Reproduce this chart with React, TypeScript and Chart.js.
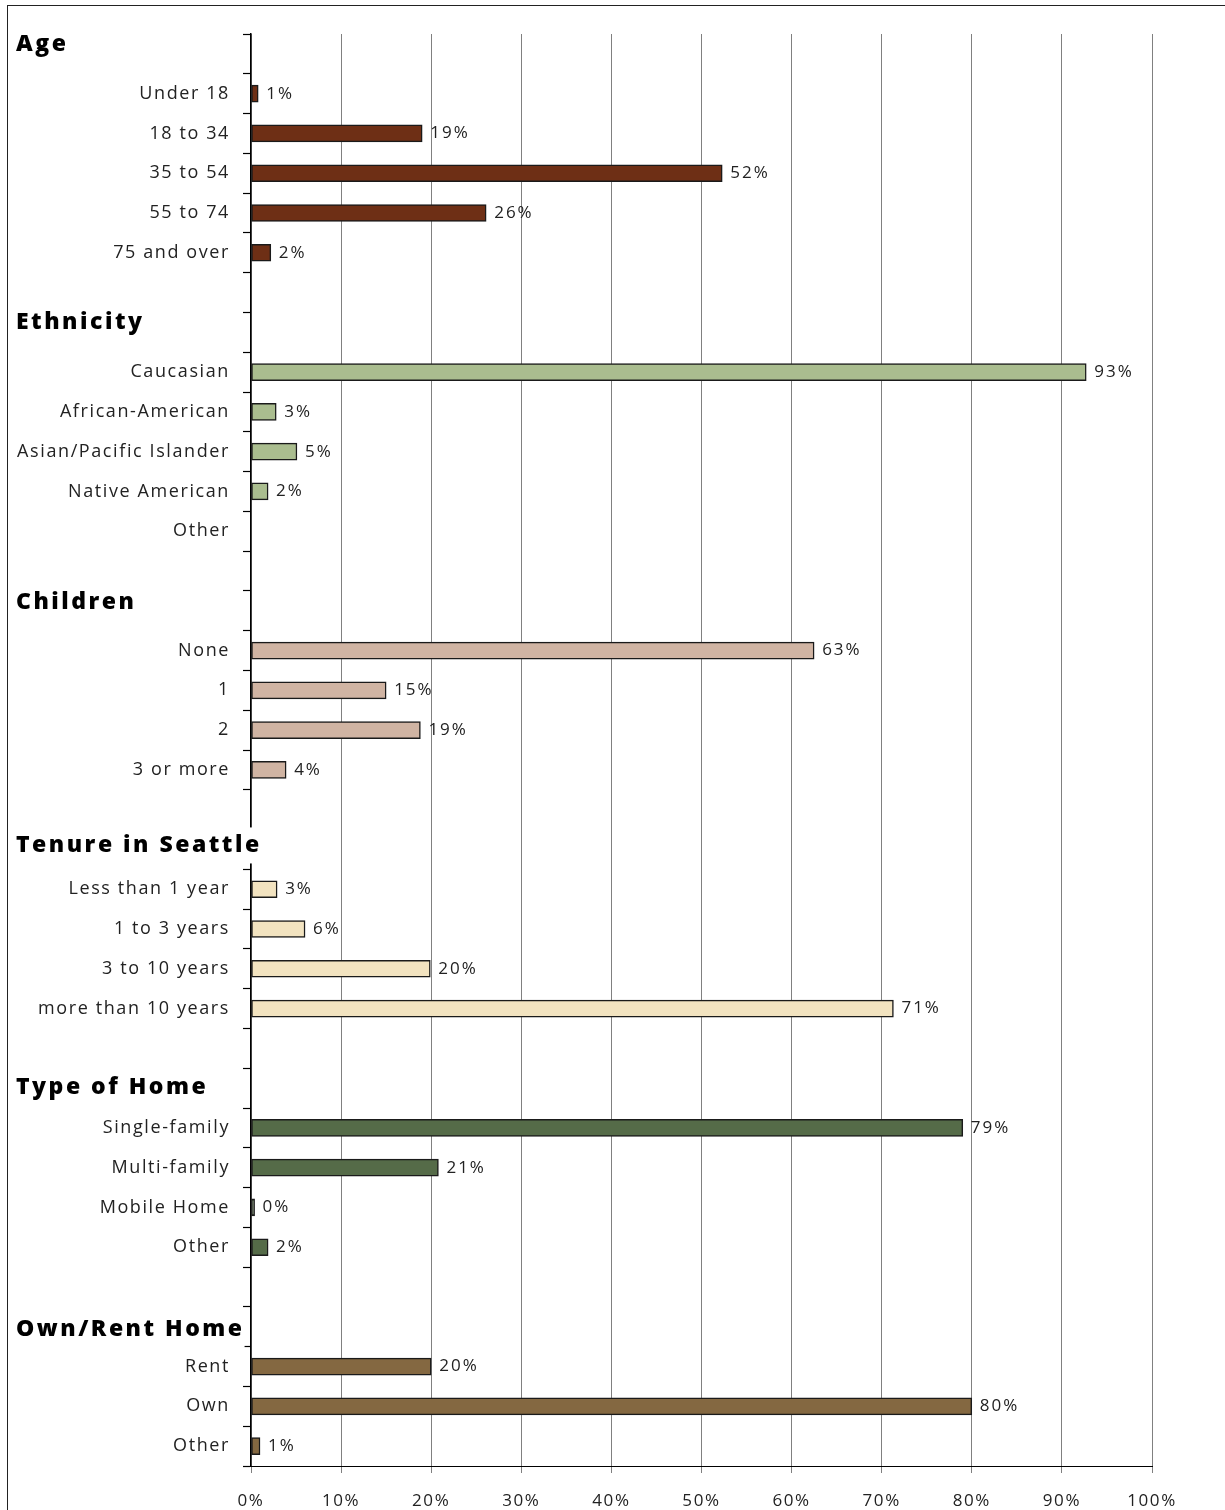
import React, { useEffect, useRef } from "react";
import { Chart, registerables } from "chart.js";

Chart.register(...registerables);

// ---- Data ----
const SECTION_TITLES = ["Age", "Ethnicity", "Children", "Tenure in Seattle", "Type of Home", "Own/Rent Home"];
const AGE_LABELS = ["Under 18", "18 to 34", "35 to 54", "55 to 74", "75 and over"];
const AGE_VALUES = [0.8, 19.0, 52.3, 26.1, 2.2];
const ETHNICITY_LABELS = ["Caucasian", "African-American", "Asian/Pacific Islander", "Native American", "Other"];
const ETHNICITY_VALUES: (number | null)[] = [92.7, 2.8, 5.1, 1.9, null];
const CHILDREN_LABELS = ["None", "1", "2", "3 or more"];
const CHILDREN_VALUES = [62.5, 15.0, 18.8, 3.9];
const TENURE_LABELS = ["Less than 1 year", "1 to 3 years", "3 to 10 years", "more than 10 years"];
const TENURE_VALUES = [2.9, 6.0, 19.9, 71.3];
const HOME_LABELS = ["Single-family", "Multi-family", "Mobile Home", "Other"];
const HOME_VALUES = [79.0, 20.8, 0.4, 1.9];
const OWN_LABELS = ["Rent", "Own", "Other"];
const OWN_VALUES = [20.0, 80.0, 1.0];
const X_TICKS = [0, 10, 20, 30, 40, 50, 60, 70, 80, 90, 100];

// ---- Style ----
const SECTION_COLORS = ["#6E2F15", "#AABD8F", "#D0B4A3", "#F2E3C0", "#556B48", "#846841"];
const HEADER_NUDGE = [-9, -10, -8, -4, -1, 3];
const LABEL_FONT = "'Open Sans', 'DejaVu Sans', sans-serif";
const SPACING = "1.6px";

export default function App() {
  const ref = useRef<HTMLCanvasElement | null>(null);

  useEffect(() => {
    const sections = [
      { labels: AGE_LABELS, values: AGE_VALUES, trailingBlank: true },
      { labels: ETHNICITY_LABELS, values: ETHNICITY_VALUES, trailingBlank: true },
      { labels: CHILDREN_LABELS, values: CHILDREN_VALUES, trailingBlank: true },
      { labels: TENURE_LABELS, values: TENURE_VALUES, trailingBlank: true },
      { labels: HOME_LABELS, values: HOME_VALUES, trailingBlank: true },
      { labels: OWN_LABELS, values: OWN_VALUES, trailingBlank: false },
    ];
    const labels: string[] = [];
    const data: (number | null)[] = [];
    const colors: string[] = [];
    const headerRows: number[] = [];
    sections.forEach((s, si) => {
      headerRows.push(labels.length);
      labels.push("");
      data.push(null);
      colors.push(SECTION_COLORS[si]);
      s.labels.forEach((l, i) => {
        labels.push(l);
        data.push(s.values[i] as number | null);
        colors.push(SECTION_COLORS[si]);
      });
      if (s.trailingBlank) {
        labels.push("");
        data.push(null);
        colors.push(SECTION_COLORS[si]);
      }
    });

    const spacingPlugin = {
      id: "spacing",
      beforeUpdate(chart: any) {
        chart.ctx.letterSpacing = SPACING;
      },
      beforeDraw(chart: any) {
        chart.ctx.letterSpacing = SPACING;
      },
    };

    const valueLabels = {
      id: "valueLabels",
      afterDatasetsDraw(chart: any) {
        const ctx = chart.ctx;
        const meta = chart.getDatasetMeta(0);
        ctx.save();
        ctx.letterSpacing = "2px";
        ctx.font = `17px ${LABEL_FONT}`;
        ctx.fillStyle = "#222";
        ctx.textAlign = "left";
        ctx.textBaseline = "middle";
        meta.data.forEach((bar: any, i: number) => {
          const v = data[i];
          if (v === null || v === undefined) return;
          ctx.fillText(Math.round(v) + "%", bar.x + 8, bar.y);
        });
        ctx.restore();
      },
    };

    const headers = {
      id: "headers",
      afterDraw(chart: any) {
        const ctx = chart.ctx;
        const y = chart.scales.y;
        ctx.save();
        ctx.font = `800 23px ${LABEL_FONT}`;
        ctx.letterSpacing = "2.5px";
        ctx.textAlign = "left";
        ctx.textBaseline = "middle";
        SECTION_TITLES.forEach((t, i) => {
          const cy = y.getPixelForValue(headerRows[i]) + HEADER_NUDGE[i];
          const w = ctx.measureText(t).width;
          ctx.fillStyle = "#fff";
          ctx.fillRect(14, cy - 18, w + 2, 36);
          ctx.fillStyle = "#000";
          ctx.fillText(t, 16, cy);
        });
        ctx.restore();
      },
    };

    const chart = new Chart(ref.current as HTMLCanvasElement, {
      type: "bar",
      data: {
        labels,
        datasets: [
          {
            data,
            backgroundColor: colors,
            borderColor: "#1a1a1a",
            borderWidth: 1.5,
            borderSkipped: false,
            barThickness: 17,
          },
        ],
      },
      options: {
        indexAxis: "y",
        animation: false,
        responsive: false,
        layout: { padding: { left: 0, right: 73, top: 34, bottom: 0 } },
        plugins: { legend: { display: false }, tooltip: { enabled: false } },
        scales: {
          x: {
            min: 0,
            max: 100,
            afterBuildTicks(scale: any) {
              scale.ticks = X_TICKS.map((v) => ({ value: v }));
            },
            afterFit(scale: any) {
              scale.height = 44;
            },
            border: { display: true, color: "#000", width: 1 },
            grid: {
              color: "#808080",
              lineWidth: 1,
              drawTicks: true,
              tickLength: 7,
              tickColor: "#808080",
            },
            ticks: {
              color: "#222",
              font: { family: LABEL_FONT, size: 17 },
              padding: 18,
              callback: (v: any) => v + "%",
            },
          },
          y: {
            afterFit(scale: any) {
              scale.width = 251;
            },
            border: { display: true, color: "#000", width: 1.5 },
            grid: {
              drawOnChartArea: false,
              offset: true,
              tickLength: 8,
              tickColor: "#000",
              tickWidth: 1.2,
            },
            ticks: {
              color: "#222",
              font: { family: LABEL_FONT, size: 18 },
              padding: 13,
              autoSkip: false,
            },
          },
        },
      },
      plugins: [spacingPlugin, valueLabels, headers],
    } as any);
    return () => chart.destroy();
  }, []);

  return (
    <div style={{ position: "absolute", left: 0, top: 0, width: 1225, height: 1510, background: "#fff" }}>
      <div
        style={{
          position: "absolute",
          left: 7,
          top: 5,
          width: 1230,
          height: 1520,
          border: "1.5px solid #222",
          boxSizing: "border-box",
        }}
      />
      <canvas ref={ref} width={1225} height={1510} style={{ position: "absolute", left: 0, top: 0 }} />
    </div>
  );
}
